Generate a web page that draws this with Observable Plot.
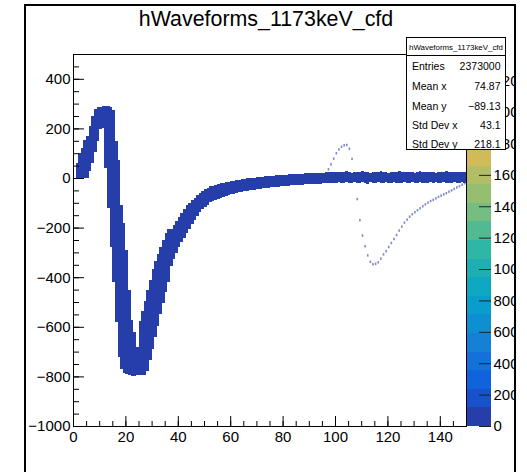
<!DOCTYPE html>
<html><head><meta charset="utf-8">
<script src="https://cdn.jsdelivr.net/npm/d3@7"></script>
<script src="https://cdn.jsdelivr.net/npm/@observablehq/plot@0.6"></script>
<style>
body{margin:0;background:#fff;}
#wrap{position:relative;width:527px;height:472px;overflow:hidden;background:#fff;font-family:"Liberation Sans",Arial,Helvetica,sans-serif;}
#main{position:absolute;left:0;top:0;}
#pal{position:absolute;left:467px;top:0;width:48px;height:472px;overflow:hidden;}
#pal svg,#main svg{max-width:none !important;height:472px !important;}
#over{position:absolute;left:0;top:0;pointer-events:none;}
</style></head><body><div id="wrap"><div id="main"></div><div id="pal"></div><svg id="over" width="527" height="472"></svg></div>
<script>
// ---------- data ----------
const titleText = "hWaveforms_1173keV_cfd";
const xTicks = [0, 20, 40, 60, 80, 100, 120, 140];
const yTicks = [-1000, -800, -600, -400, -200, 0, 200, 400];
const paletteTicks = [0, 200, 400, 600, 800, 1000, 1200, 1400, 1600, 1800, 2000, 2200];
const zMax = 2370;          // palette maximum (bin content)
const nLevels = 20;         // contour levels
const BIN_START = 1;        // first filled x bin (bins are 1 unit wide)
const Y_BIN = 10;           // y bin height
const BAND_COUNT = 60;      // typical content of the band cells (lowest colour band)
const OUT_COUNT = 1;        // single outlier waveform

// band envelope per x bin (bins 1..149)
const bandLo = [
  0,0,0,0,0,30,60,104,151,198,200,40,
  -120,-280,-420,-580,-720,-770,-785,-792,-795,-797,-797,-796,
  -795,-795,-795,-780,-735,-688,-640,-595,-550,-505,-460,-418,
  -355,-325,-302,-277,-258,-240,-221,-204,-186,-170,-152,-138,-127,-116,-107,-96,
  -92,-88,-84,-80,-76,-72,-69,-66,-63,-60,-58,-56,-54,-52,-50,-48,-47,-45,-44,-42,-41,-40,-38,-37,-36,-35,-34,
  -33,-32,-31,-30,-29,-28,-28,-27,-26,-25,-25,-24,-24,-23,-23,-22,-22,-21,-21,-20,
  -20,-18,-21,-19,-17,-22,-19,-18,-20,-21,-18,-19,-23,-18,-20,-19,-17,-21,-20,-18,-19,-22,-18,-20,-19,-21,-17,-19,-20,-18,-22,-19,-18,-20,-21,-19,-18,-20,-17,-19,-21,-18,-20,-19,-22,-18,-19,-20,-18,-19
];
const bandHi = [
  59,100,120,153,170,210,250,278,285,288,290,292,
  290,285,274,150,73,-109,-180,-290,-452,-573,-620,-680,
  -578,-538,-496,-453,-410,-368,-336,-305,-277,-250,-223,-207,
  -204,-190,-174,-158,-141,-125,-110,-99,-88,-79,-69,-61,-53,-45,-40,-34,
  -31,-28,-25,-22,-19,-17,-15,-13,-11,-9,-7,-5,-4,-2,-1,1,2,4,5,6,7,8,9,10,11,12,13,
  14,14,15,15,16,17,17,18,19,19,20,20,21,21,22,22,23,23,23,24,
  24,26,23,25,27,24,22,26,25,23,27,24,25,22,26,24,23,27,25,24,22,26,25,23,28,24,25,23,26,24,22,25,27,24,23,26,24,25,22,26,24,23,27,25,24,26,23,25,24,26
];
// outlier waveform (one entry per bin)
const outX = [97,98,99,100,101,102,103,104,105,106,107,108,109,110,111,112,113,114,115,116,117,118,119,120,121,122,123,124,125,126,127,128,129,130,131,132,133,134,135,136,137,138,139,140,141,142,143,144,145,146,147,148,149];
const outY = [35,55,78,100,115,126,132,133,118,77,-5,-85,-170,-232,-275,-312,-338,-348,-346,-340,-325,-308,-295,-278,-262,-246,-230,-212,-196,-180,-168,-156,-146,-138,-130,-122,-114,-106,-99,-93,-88,-82,-76,-71,-66,-61,-55,-50,-44,-38,-33,-27,-21];

const statsTitle = "hWaveforms_1173keV_cfd";
const statsLabels = ["Entries", "Mean x", "Mean y", "Std Dev x", "Std Dev y"];
const statsValues = ["2373000", "74.87", "\u221289.13", "43.1", "218.1"];

// ---------- tables ----------
const band = bandLo.map((lo, i) => ({x: BIN_START + i, lo, hi: bandHi[i], count: BAND_COUNT}));
const outlier = outX.map((x, i) => ({x, y: outY[i], count: OUT_COUNT}));
if (bandLo.length !== bandHi.length || outX.length !== outY.length) throw new Error("length mismatch " + bandLo.length + " " + bandHi.length + " " + outX.length + " " + outY.length);

// kBird palette
const bird = ["#352a87","#0f5cdd","#1481d6","#06a4ca","#2eb7a4","#87bf77","#d1bb59","#fec832","#f9fb0e"];
const birdI = d3.piecewise(d3.interpolateRgb, bird);
const levelColors = d3.range(nLevels).map(i => birdI((i + 1) / nLevels));
const thresholds = d3.range(1, nLevels).map(i => i * zMax / nLevels);
const colorScale = {type: "threshold", domain: thresholds, range: levelColors};

const fmt = d => d < 0 ? "\u2212" + Math.abs(d) : String(d);
const font = "'Liberation Sans', Arial, Helvetica, sans-serif";

// ---------- main plot ----------
const W = 527, H = 472, mL = 73, mR = 61, mT = 54, mB = 46;
const fW = W - mL - mR, fH = H - mT - mB;
const xMinor = d3.range(0, 151, 5);
const yMinor = d3.range(-1000, 501, 50);

const main = Plot.plot({
  width: W, height: H,
  marginLeft: mL, marginRight: mR, marginTop: mT, marginBottom: mB,
  style: {fontFamily: font, background: "white", color: "black"},
  x: {domain: [0, 150], label: null},
  y: {domain: [-1000, 500], label: null},
  color: colorScale,
  marks: [
    Plot.rect(outlier, {x1: "x", x2: d => d.x + 1, y1: d => d.y - Y_BIN / 2, y2: d => d.y + Y_BIN / 2,
      fill: "count", fillOpacity: 0.6, insetLeft: 0.5, insetRight: 0.5}),
    Plot.rect(band, {x1: "x", x2: d => d.x + 1, y1: "lo", y2: "hi", fill: "count", shapeRendering: "crispEdges"}),
    Plot.frame({stroke: "black", strokeWidth: 1}),
    Plot.tickX(xMinor, {x: d => d, insetTop: fH - 5, stroke: "black"}),
    Plot.tickX(xTicks, {x: d => d, insetTop: fH - 10, stroke: "black"}),
    Plot.tickY(yMinor, {y: d => d, insetRight: fW - 6, stroke: "black"}),
    Plot.tickY(yTicks, {y: d => d, insetRight: fW - 11, stroke: "black"}),
    Plot.axisX({ticks: xTicks, tickSize: 0, tickPadding: 5, fontSize: 15, tickFormat: fmt}),
    Plot.axisY({ticks: yTicks, tickSize: 0, tickPadding: 3, fontSize: 15, tickFormat: fmt})
  ]
});
document.getElementById("main").appendChild(main);

// ---------- palette ----------
const levels = d3.range(nLevels).map(i => ({lo: i * zMax / nLevels, hi: (i + 1) * zMax / nLevels, mid: (i + 0.5) * zMax / nLevels}));
const pal = Plot.plot({
  width: 80, height: H,
  marginLeft: 0, marginRight: 56, marginTop: mT, marginBottom: mB,
  style: {fontFamily: font, background: "transparent", color: "black", maxWidth: "none"},
  x: {axis: null},
  y: {domain: [0, zMax], label: null},
  color: colorScale,
  marks: [
    Plot.rect(levels, {y1: "lo", y2: "hi", fill: "mid", shapeRendering: "crispEdges"}),
    Plot.tickY(paletteTicks, {y: d => d, insetLeft: 12, stroke: "#222"}),
    Plot.axisY({anchor: "right", ticks: paletteTicks, tickSize: 0, tickPadding: 2, fontSize: 15, tickFormat: fmt})
  ]
});
document.getElementById("pal").appendChild(pal);

// ---------- overlay: canvas border, title, stats box ----------
const over = d3.select("#over");
over.append("rect").attr("x", 25).attr("y", 5).attr("width", 490).attr("height", 480)
  .attr("fill", "none").attr("stroke", "black").attr("stroke-width", 2);
over.append("text").attr("x", 266).attr("y", 25.5).attr("text-anchor", "middle")
  .attr("font-family", font).attr("font-size", 21.4).attr("fill", "black").text(titleText);
const sb = over.append("g");
sb.append("rect").attr("x", 406.5).attr("y", 37.5).attr("width", 99).attr("height", 112)
  .attr("fill", "white").attr("stroke", "black").attr("stroke-width", 1);
sb.append("line").attr("x1", 406.5).attr("x2", 505.5).attr("y1", 55.5).attr("y2", 55.5).attr("stroke", "black");
sb.append("text").attr("x", 456).attr("y", 49.5).attr("text-anchor", "middle")
  .attr("font-family", font).attr("font-size", 7.9).text(statsTitle);
const rowY = [70, 90, 109.5, 128.5, 147.5];
statsLabels.forEach((lab, i) => {
  sb.append("text").attr("x", 412).attr("y", rowY[i]).attr("font-family", font).attr("font-size", 10.5).text(lab);
  sb.append("text").attr("x", 500.5).attr("y", rowY[i]).attr("text-anchor", "end").attr("font-family", font).attr("font-size", 10.5).text(statsValues[i]);
});
</script>
</body></html>
